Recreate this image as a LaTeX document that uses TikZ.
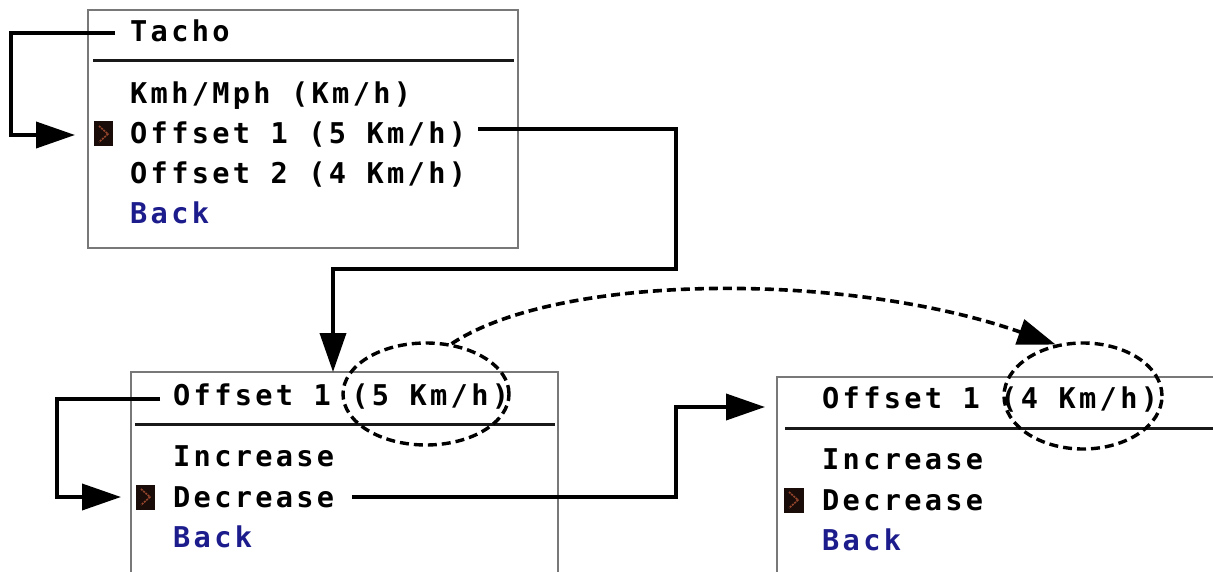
\documentclass[tikz,border=0pt]{standalone}
\usepackage{fontspec}
\usetikzlibrary{arrows.meta,shapes.geometric}
\newfontfamily\lcdfam[LetterSpace=11.6]{DejaVu Sans Mono}
\newcommand\lcdfont{\lcdfam\bfseries\fontsize{28.6pt}{30pt}\selectfont}
\definecolor{backblue}{RGB}{28,28,140}
\definecolor{markfill}{RGB}{26,12,8}
\definecolor{markchev}{RGB}{150,70,45}
\definecolor{boxgray}{RGB}{120,120,120}
\tikzset{
  lcdtxt/.style={anchor=base west, inner sep=0pt, font=\lcdfont, text=black},
  backtxt/.style={lcdtxt, text=backblue},
  screen/.style={draw=boxgray, line width=1.2pt},
  titlerule/.style={line width=3pt, draw=black!90},
  conn/.style={line width=3.8pt, -{Triangle[length=39pt,width=26pt]}},
  dashconn/.style={line width=3.6pt, dash pattern=on 9pt off 5pt, -{Triangle[length=38pt,width=26pt]}},
  dashring/.style={draw, ellipse, line width=3.4pt, dash pattern=on 9pt off 5pt, inner sep=0pt},
  marker/.style={fill=markfill, draw=none, inner sep=0pt, minimum width=19pt, minimum height=25pt},
  chev/.style={draw=markchev, line width=1.6pt, dash pattern=on 2pt off 1pt}
}
\begin{document}
\begin{tikzpicture}[x=1pt,y=-1pt]
\clip (0,0) rectangle (1213,572);
\fill[white] (0,0) rectangle (1213,572);

% ---------- Screen 1 ----------
\draw[screen] (88,10) rectangle (518,248);
\draw[titlerule] (93,61) -- (514,61);
\node[lcdtxt] (t1) at (130,42) {Tacho};
\node[lcdtxt] (a1) at (130,104) {Kmh/Mph (Km/h)};
\node[lcdtxt] (a2) at (130,144) {Offset 1 (5 Km/h)};
\node[lcdtxt] (a3) at (130,184) {Offset 2 (4 Km/h)};
\node[backtxt] (a4) at (130,224) {Back};
\node[marker] (m1) at (103.5,134) {};
\draw[chev] (99,126) -- (108,134) -- (99,142);

% ---------- Screen 2 ----------
\draw[screen] (131,372) rectangle (558,600);
\draw[titlerule] (135,424) -- (555,424);
\node[lcdtxt] (t2) at (173,405) {Offset 1 (5 Km/h)};
\node[lcdtxt] (b1) at (173,466) {Increase};
\node[lcdtxt] (b2) at (173,507) {Decrease};
\node[backtxt] (b3) at (173,547) {Back};
\node[marker] (m2) at (145.5,497) {};
\draw[chev] (141,489) -- (150,497) -- (141,505);

% ---------- Screen 3 ----------
\draw[screen] (777,377) rectangle (1250,600);
\draw[titlerule] (785,428) -- (1213,428);
\node[lcdtxt] (t3) at (822,408) {Offset 1 (4 Km/h)};
\node[lcdtxt] (c1) at (822,469) {Increase};
\node[lcdtxt] (c2) at (822,510) {Decrease};
\node[backtxt] (c3) at (822,550) {Back};
\node[marker, minimum width=20pt] (m3) at (794,500) {};
\draw[chev] (789,492) -- (798,500) -- (789,508);

% ---------- dashed rings ----------
\node[dashring, minimum width=166pt, minimum height=102pt] (e1) at (426,394) {};
\node[dashring, minimum width=158pt, minimum height=106pt] (e2) at (1083,396) {};

% ---------- connector ends ----------
\coordinate (s1) at (115,33);
\coordinate (p1) at (75,135);
\coordinate (s2) at (478,129);
\coordinate (p2) at (333,372);
\coordinate (s3) at (160,399);
\coordinate (p3) at (121,497);
\coordinate (s4) at (352,497);
\coordinate (p4) at (765,407);

% ---------- connectors ----------
\draw[conn] (s1) -- (11,33) |- (p1);
\draw[conn] (s2) -- (676,129) -- (676,269) -- (333,269) -- (p2);
\draw[conn] (s3) -- (57,399) |- (p3);
\draw[conn] (s4) -- (676,497) |- (p4);
\draw[dashconn] (e1.63) .. controls (560,272) and (850,272) .. (e2.118);
\end{tikzpicture}
\end{document}
